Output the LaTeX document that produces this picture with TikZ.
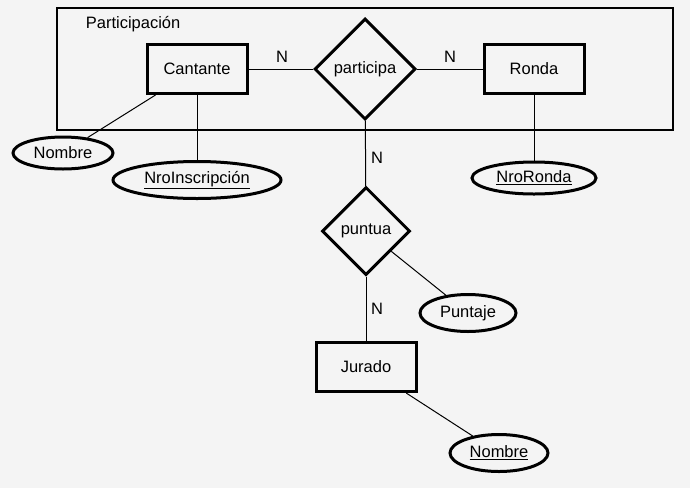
\documentclass[tikz,border=0pt]{standalone}
\usepackage{fontspec}
\setmainfont{Liberation Sans}
\usetikzlibrary{shapes.geometric}
\definecolor{fondo}{HTML}{F4F4F4}
\tikzset{
  entidad/.style={draw,line width=3pt,minimum width=100pt,minimum height=49pt,inner sep=0pt},
  relacion/.style={draw,diamond,line width=3pt,inner sep=0pt},
  atributo/.style={draw,ellipse,line width=3pt,inner sep=0pt,minimum height=35pt},
  card/.style={inner sep=0pt}
}
\begin{document}
\begin{tikzpicture}[x=1pt,y=-1pt,font=\fontsize{16.5}{19}\selectfont,line width=1pt]
\fill[fondo](0,0)rectangle(690,488);
\useasboundingbox(0,0)rectangle(690,488);
%aggregation
\draw[line width=2.3pt](57,8)rectangle(673,130);
\node[anchor=west](agreg)at(82,24){Participación};
%entities
\node[entidad](cantante)at(197,69){Cantante};
\node[entidad](ronda)at(534,69){Ronda};
\node[entidad](jurado)at(366,367){Jurado};
%relationships
\node[relacion,minimum width=101pt,minimum height=101pt](participa)at(365,69){participa};
\node[relacion,minimum width=88pt,minimum height=88pt](puntua)at(366,231){puntua};
%attributes
\node[atributo,minimum width=100pt,minimum height=32pt](nombre)at(63,153){Nombre};
\node[atributo,minimum width=168pt,minimum height=37pt](nroinsc)at(197,180){\underline{NroInscripción}};
\node[atributo,minimum width=124pt,minimum height=32pt](nroronda)at(534,178){\underline{NroRonda}};
\node[atributo,minimum width=96pt,minimum height=37pt](puntaje)at(468,313){Puntaje};
\node[atributo,minimum width=98pt,minimum height=37pt](nombrej)at(499,453){\underline{Nombre}};
%connectors
\draw(cantante)--(participa);
\draw(participa)--(ronda);
\draw(participa)--(puntua);
\draw(puntua)--(jurado);
\draw(cantante)--(nombre);
\draw(cantante)--(nroinsc);
\draw(ronda)--(nroronda);
\draw(puntua)--(puntaje);
\draw(jurado)--(nombrej);
%cardinalities
\node[card](n1)at(282,57){N};
\node[card](n2)at(450,57){N};
\node[card](n3)at(377,158){N};
\node[card](n4)at(377,309){N};
\end{tikzpicture}
\end{document}
